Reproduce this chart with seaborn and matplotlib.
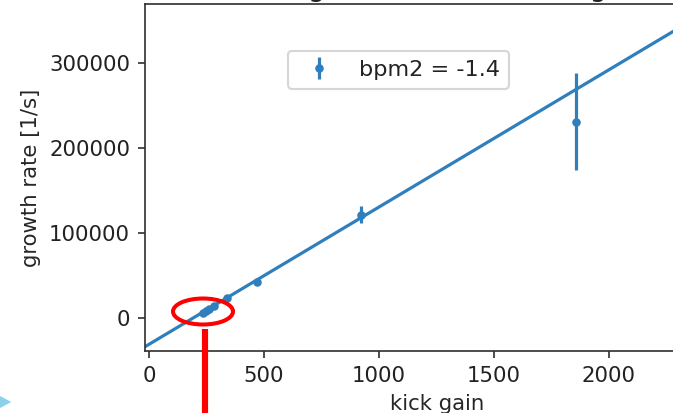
import numpy as np
import pandas as pd
import matplotlib.pyplot as plt
import seaborn as sns
from matplotlib.patches import Ellipse, Polygon
from matplotlib.lines import Line2D

# --- Data ---
kick_gain = [236, 248, 262, 282, 338, 468, 922, 1858]
growth_rate = [5000, 7500, 9500, 13500, 22600, 42200, 121000, 230500]
growth_err = [2000, 3000, 2500, 3000, 2500, 2500, 10200, 57000]

# linear fit shown as the straight line
fit_slope = 161.6
fit_intercept = -31560
bpm2 = -1.4

x_ticks = [0, 500, 1000, 1500, 2000]
y_ticks = [0, 100000, 200000, 300000]

# --- Configuration ---
DPI = 153
W, H = 673, 413
BLUE = '#2f7fbd'

sns.set_style('ticks')
plt.rcParams['font.family'] = ['DejaVu Sans']
plt.rcParams['axes.edgecolor'] = '#333333'
plt.rcParams['text.color'] = '#222222'
plt.rcParams['xtick.color'] = '#333333'
plt.rcParams['ytick.color'] = '#333333'

fig = plt.figure(figsize=(W / DPI, H / DPI), dpi=DPI)
# axes is cropped on the right and top like the screenshot
ax = fig.add_axes([145 / W, 1 - 350.7 / H, (730 - 145) / W, (350.7 - 4) / H])

xlim = (-17, 2526)
ylim = (-39000, 369000)

fit_df = pd.DataFrame({'kick gain': np.linspace(xlim[0], xlim[1], 50)})
fit_df['growth rate'] = fit_slope * fit_df['kick gain'] + fit_intercept
sns.lineplot(data=fit_df, x='kick gain', y='growth rate', ax=ax, color=BLUE, lw=1.5)

ax.errorbar(kick_gain, growth_rate, yerr=growth_err, fmt='.', color=BLUE,
            markersize=6, elinewidth=1.5, label=f'bpm2 = {bpm2}')

ax.set_xlim(xlim)
ax.set_ylim(ylim)
ax.set_xticks(x_ticks)
ax.set_yticks(y_ticks)
ax.set_xlabel('kick gain')
ax.set_ylabel('growth rate [1/s]')
ax.tick_params(length=3.5, width=0.8, labelcolor='#222222')
for sp in ax.spines.values():
    sp.set_linewidth(0.8)

ax.legend(loc='upper left', bbox_to_anchor=(288 / W, 1 - 51 / H),
          bbox_transform=fig.transFigure, borderaxespad=0, fontsize=10.5)

# title cut off by the screenshot: only descenders remain
fig.text(308 / W, 1 + 4.5 / H, 'growth rate vs. kick gain', fontsize=13,
         ha='left', va='baseline')

# red annotation from the screenshot
fig.add_artist(Ellipse((203 / W, 1 - 311.5 / H), 60 / W, 26 / H, fill=False,
                       ec='red', lw=1.9, transform=fig.transFigure, zorder=10))
fig.add_artist(Line2D([205 / W, 205 / W], [1 - 329 / H, -0.02], color='red',
                      lw=2.9, solid_capstyle='butt', transform=fig.transFigure, zorder=10))
# light blue arrow tip at the lower-left corner
fig.add_artist(Polygon([[-6 / W, 1 - 394 / H], [9 / W, 1 - 402 / H], [-6 / W, 1 - 410 / H]],
                       closed=True, color='#8dd0ec', transform=fig.transFigure, zorder=10))

fig.savefig('out.png', dpi=DPI)
